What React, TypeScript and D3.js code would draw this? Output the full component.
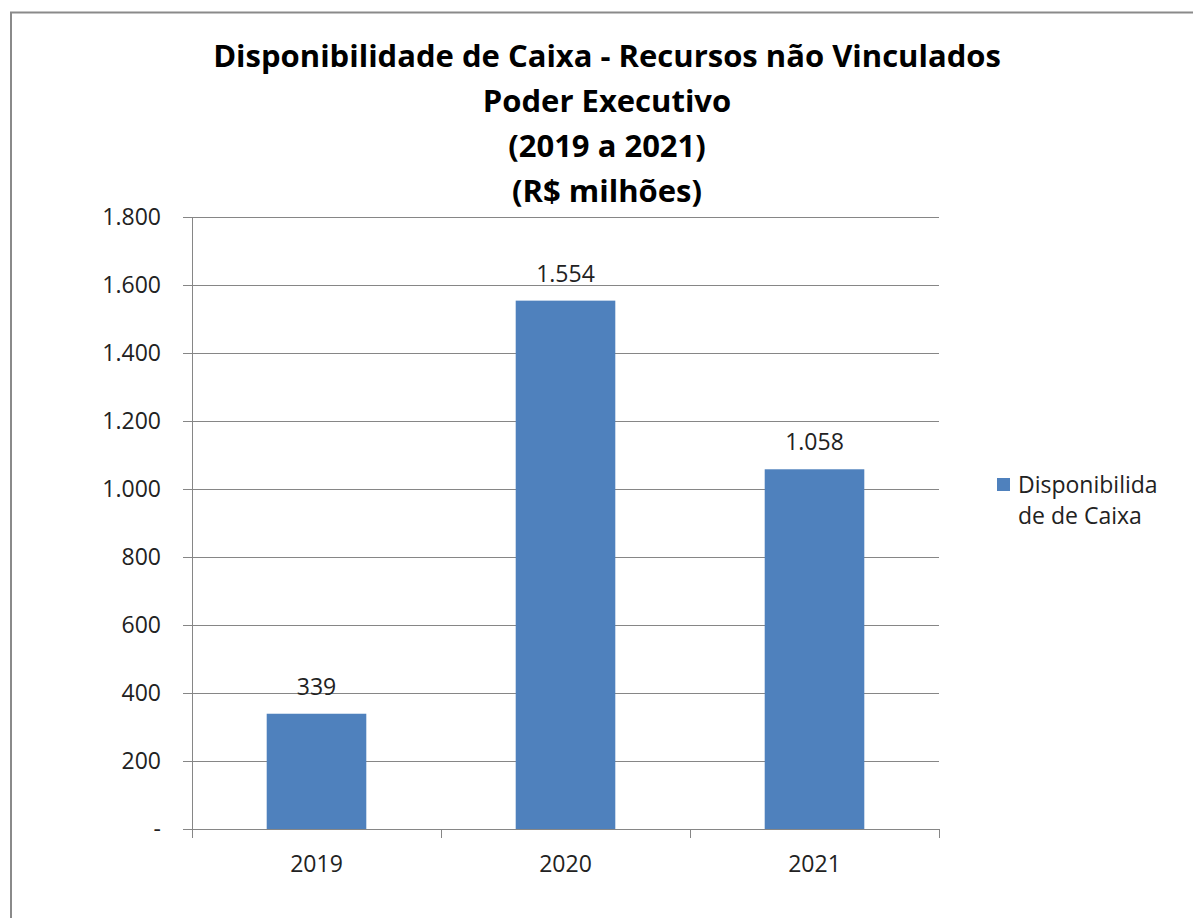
import React from "react";
import * as d3 from "d3";

const categories = ["2019", "2020", "2021"];
const values = [339, 1554, 1058];
const valueLabels = ["339", "1.554", "1.058"];
const yTicks = [0, 200, 400, 600, 800, 1000, 1200, 1400, 1600, 1800];
const yTickLabels = ["-", "200", "400", "600", "800", "1.000", "1.200", "1.400", "1.600", "1.800"];
const titleLines = [
  "Disponibilidade de Caixa - Recursos não Vinculados",
  "Poder Executivo",
  "(2019 a 2021)",
  "(R$ milhões)",
];
const legendLines = ["Disponibilida", "de de Caixa"];

const W = 1193;
const H = 918;
const left = 192;
const right = 939;
const top = 217;
const bottom = 829;
const FONT = "'Open Sans', 'Noto Sans', sans-serif";

export default function App() {
  const x = d3.scaleBand<string>().domain(categories).range([left, right]).paddingInner(0.6).paddingOuter(0.3);
  const xb = d3.scaleBand<string>().domain(categories).range([left, right]);
  const y = d3.scaleLinear().domain([0, 1800]).range([bottom, top]);
  const grid = "#868686";
  return (
    <svg width={W} height={H} style={{ position: "absolute", left: 0, top: 0, background: "#fff" }}>
      <rect x={0} y={0} width={W} height={H} fill="#fff" />
      <rect x={11} y={12.5} width={W} height={H} fill="none" stroke="#8a8a8a" strokeWidth={2} />
      {titleLines.map((t, i) => (
        <text key={i} x={607} y={[67, 112, 157, 202][i]} textAnchor="middle" fontFamily={FONT} fontWeight="bold" fontSize={31} fill="#000">
          {t}
        </text>
      ))}
      {yTicks.map((t, i) => (
        <g key={t}>
          <line x1={183} x2={right} y1={y(t) + 0.5} y2={y(t) + 0.5} stroke={grid} strokeWidth={1} />
          <text x={161} y={y(t) + 8} textAnchor="end" fontFamily={FONT} fontSize={23} fill="#222">
            {yTickLabels[i]}
          </text>
        </g>
      ))}
      <line x1={left + 0.5} x2={left + 0.5} y1={top} y2={bottom + 9} stroke={grid} />
      {categories.map((c) => (
        <line key={c} x1={(xb(c) as number) + xb.bandwidth() + 0.5} x2={(xb(c) as number) + xb.bandwidth() + 0.5} y1={bottom} y2={bottom + 9} stroke={grid} />
      ))}
      {categories.map((c, i) => (
        <g key={c}>
          <rect x={x(c)} y={y(values[i])} width={x.bandwidth()} height={bottom - y(values[i])} fill="#4F81BD" />
          <text x={(x(c) as number) + x.bandwidth() / 2} y={y(values[i]) - 19} textAnchor="middle" fontFamily={FONT} fontSize={23} fill="#222">
            {valueLabels[i]}
          </text>
          <text x={(xb(c) as number) + xb.bandwidth() / 2} y={872} textAnchor="middle" fontFamily={FONT} fontSize={23} fill="#222">
            {c}
          </text>
        </g>
      ))}
      <rect x={997} y={478} width={13} height={13} fill="#4F81BD" />
      {legendLines.map((l, i) => (
        <text key={i} x={1018} y={493 + i * 31} fontFamily={FONT} fontSize={23} fill="#222">
          {l}
        </text>
      ))}
    </svg>
  );
}
